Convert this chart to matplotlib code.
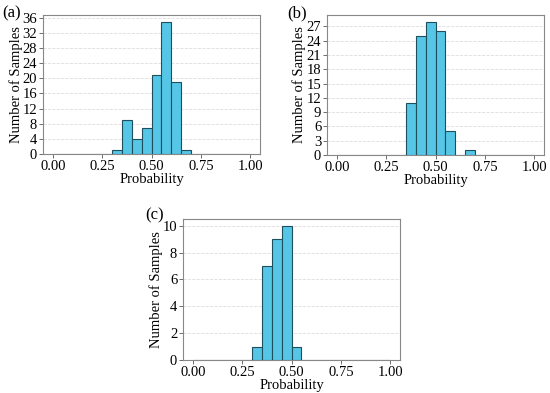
import matplotlib
matplotlib.use("Agg")
import matplotlib.pyplot as plt
import numpy as np

plt.rcParams["font.family"] = ["Liberation Serif", "DejaVu Serif"]

bin_edges = np.round(np.arange(0.0, 1.0001, 0.05), 2)

# counts per 0.05 bin
counts_a = [0, 0, 0, 0, 0, 0, 1, 9, 4, 7, 21, 35, 19, 1, 0, 0, 0, 0, 0, 0]
counts_b = [0, 0, 0, 0, 0, 0, 0, 11, 25, 28, 26, 5, 0, 1, 0, 0, 0, 0, 0, 0]
counts_c = [0, 0, 0, 0, 0, 0, 1, 7, 9, 10, 1, 0, 0, 0, 0, 0, 0, 0, 0, 0]

xticks = [0.0, 0.25, 0.5, 0.75, 1.0]
yticks_a = list(range(0, 37, 4))
yticks_b = list(range(0, 28, 3))
yticks_c = list(range(0, 11, 2))

W, H = 550, 393
fig = plt.figure(figsize=(W / 100, H / 100), dpi=100)


def px_axes(left, top, right, bottom):
    return fig.add_axes([left / W, 1 - bottom / H, (right - left) / W, (bottom - top) / H])


def draw(ax, counts, yticks, label, lx, ly):
    ax.bar(bin_edges[:-1], counts, width=0.05, align="edge",
           color="#56c6e6", edgecolor="#1f4f5f", linewidth=0.8, zorder=3)
    ax.set_xlim(-0.05, 1.05)
    ax.set_ylim(0, max(counts) * 1.05)
    ax.set_xticks(xticks)
    ax.set_xticklabels(["0.00", "0.25", "0.50", "0.75", "1.00"])
    ax.set_yticks(yticks)
    ax.tick_params(labelsize=10.5, length=3, width=0.6, pad=1.2, color="#555555")
    ax.yaxis.grid(True, linestyle="--", color="#dddddd", linewidth=0.6, zorder=0)
    for s in ax.spines.values():
        s.set_color("#888888")
        s.set_linewidth(0.8)
    ax.set_xlabel("Probability", fontsize=10.5, labelpad=0)
    ax.set_ylabel("Number of Samples", fontsize=10.5, labelpad=0)
    fig.text(lx / W, 1 - ly / H, label, fontsize=12, ha="left", va="center")


ax_a = px_axes(43, 15, 260, 154)
draw(ax_a, counts_a, yticks_a, "(a)", 2, 13)

ax_b = px_axes(327, 15, 544, 155)
draw(ax_b, counts_b, yticks_b, "(b)", 287, 13)

ax_c = px_axes(183, 219, 400, 360)
draw(ax_c, counts_c, yticks_c, "(c)", 145, 215)

fig.savefig("out.png", dpi=100)
